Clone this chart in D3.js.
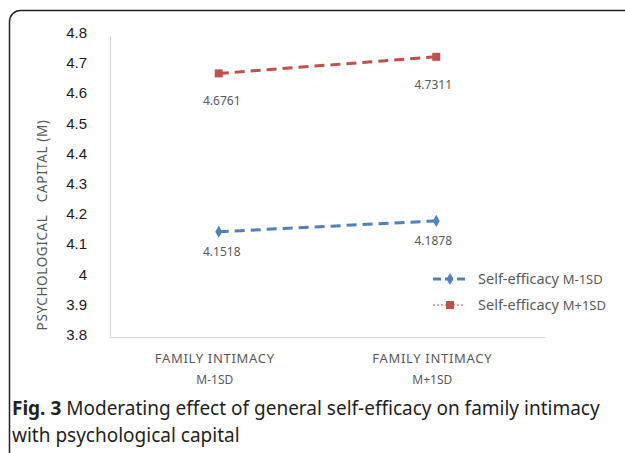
<!DOCTYPE html>
<html lang="en">
<head>
    <meta charset="UTF-8">
    <title>Fig. 3</title>
    <script src="https://d3js.org/d3.v7.min.js"></script>
    <style>
        body {
            margin: 0;
            padding: 0;
            background-color: #fff;
        }
        svg {
            display: block;
            font-family: "Noto Sans", sans-serif;
        }
    </style>
</head>
<body>
    <svg width="625" height="453"></svg>
    <script>
        const categories = ["M-1SD", "M+1SD"];
        const yTicks = [3.8, 3.9, 4, 4.1, 4.2, 4.3, 4.4, 4.5, 4.6, 4.7, 4.8];
        const lowSelfEfficacy = [4.1518, 4.1878];
        const highSelfEfficacy = [4.6761, 4.7311];
        const seriesNames = ["Self-efficacy M-1SD", "Self-efficacy M+1SD"];

        const series = [
            { name: seriesNames[0], values: lowSelfEfficacy, color: "#4f81bd", marker: "diamond", labelDy: 20 },
            { name: seriesNames[1], values: highSelfEfficacy, color: "#c0504d", marker: "square", labelDy: 28 }
        ];

        const svg = d3.select("svg");

        // outer frame (cut at the right and bottom)
        svg.append("rect")
            .attr("x", 9.5).attr("y", 10.5)
            .attr("width", 660).attr("height", 480)
            .attr("rx", 11)
            .attr("fill", "none")
            .attr("stroke", "#222")
            .attr("stroke-width", 1.5);

        const x = d3.scalePoint()
            .domain(categories)
            .range([110, 545])
            .padding(0.5);

        const y = d3.scaleLinear()
            .domain([3.8, 4.8])
            .range([338, 36]);

        // plot frame lines
        svg.append("line")
            .attr("x1", 110.5).attr("x2", 110.5)
            .attr("y1", 36).attr("y2", 337.5)
            .attr("stroke", "#d9d9d9");
        svg.append("line")
            .attr("x1", 110).attr("x2", 545)
            .attr("y1", 337.5).attr("y2", 337.5)
            .attr("stroke", "#d9d9d9");

        // y axis
        const yAxis = svg.append("g")
            .attr("transform", "translate(110,0)")
            .call(d3.axisLeft(y).tickValues(yTicks).tickSize(0).tickPadding(23).tickFormat(d3.format("")));
        yAxis.select(".domain").remove();
        yAxis.selectAll("text")
            .attr("dy", "0.1em")
            .style("font-size", "15px")
            .attr("fill", "#1a1a1a");

        svg.append("text")
            .attr("transform", "translate(47,225) rotate(-90)")
            .attr("text-anchor", "middle")
            .style("font-size", "13.5px")
            .style("letter-spacing", "0.6px")
            .attr("fill", "#595959")
            .attr("xml:space", "preserve")
            .text("PSYCHOLOGICAL   CAPITAL (M)");

        // x category labels
        const xLab = svg.append("g").selectAll("g")
            .data(categories)
            .join("g")
            .attr("transform", d => `translate(${x(d) - 4},0)`);
        xLab.append("text")
            .attr("y", 363)
            .attr("text-anchor", "middle")
            .style("font-size", "13px")
            .style("letter-spacing", "0.7px")
            .attr("fill", "#595959")
            .text("FAMILY INTIMACY");
        xLab.append("text")
            .attr("y", 384)
            .attr("text-anchor", "middle")
            .style("font-size", "12px")
            .attr("fill", "#595959")
            .text(d => d);

        const line = d3.line()
            .x((d, i) => x(categories[i]))
            .y(d => y(d));

        const symbolFor = m => m === "diamond" ? d3.symbolDiamond : d3.symbolSquare;
        const symbolSize = m => m === "diamond" ? 42 : 64;

        series.forEach(s => {
            const g = svg.append("g");
            g.append("path")
                .datum(s.values)
                .attr("fill", "none")
                .attr("stroke", s.color)
                .attr("stroke-width", 3)
                .attr("stroke-dasharray", "10,6")
                .attr("d", line);
            g.selectAll("path.pt")
                .data(s.values)
                .join("path")
                .attr("class", "pt")
                .attr("transform", (d, i) => `translate(${x(categories[i])},${y(d)})`)
                .attr("d", d3.symbol().type(symbolFor(s.marker)).size(symbolSize(s.marker)))
                .attr("fill", s.color);
            g.selectAll("text")
                .data(s.values)
                .join("text")
                .attr("x", (d, i) => x(categories[i]) + (i === 0 ? 3 : -3))
                .attr("y", d => y(d) + s.labelDy + 4)
                .attr("text-anchor", "middle")
                .style("font-size", "12px")
                .attr("fill", "#595959")
                .text(d => d.toFixed(4));
        });

        // legend
        const legend = svg.append("g").selectAll("g")
            .data(series)
            .join("g")
            .attr("transform", (d, i) => `translate(433,${279 + i * 26})`);
        legend.append("line")
            .attr("x1", 0).attr("x2", 32)
            .attr("stroke", d => d.color)
            .attr("stroke-width", (d, i) => i === 0 ? 3 : 1.2)
            .attr("stroke-dasharray", (d, i) => i === 0 ? "8,4" : "2,2");
        legend.append("path")
            .attr("transform", "translate(17,0)")
            .attr("d", d => d3.symbol().type(symbolFor(d.marker)).size(symbolSize(d.marker))())
            .attr("fill", d => d.color);
        const lt = legend.append("text")
            .attr("x", 45)
            .attr("dy", "0.35em")
            .attr("fill", "#595959")
            .style("font-size", "14.5px");
        lt.append("tspan").text(d => d.name.split(" ")[0] + " ");
        lt.append("tspan").style("font-size", "13px").text(d => d.name.split(" ")[1]);

        // caption
        const cap = svg.append("text")
            .attr("x", 12).attr("y", 415)
            .style("font-size", "19px")
            .attr("fill", "#231f20");
        cap.append("tspan").style("font-weight", "bold").text("Fig. 3");
        cap.append("tspan").text(" Moderating effect of general self-efficacy on family intimacy");
        svg.append("text")
            .attr("x", 12).attr("y", 442)
            .style("font-size", "19px")
            .attr("fill", "#231f20")
            .text("with psychological capital");
    </script>
</body>
</html>
